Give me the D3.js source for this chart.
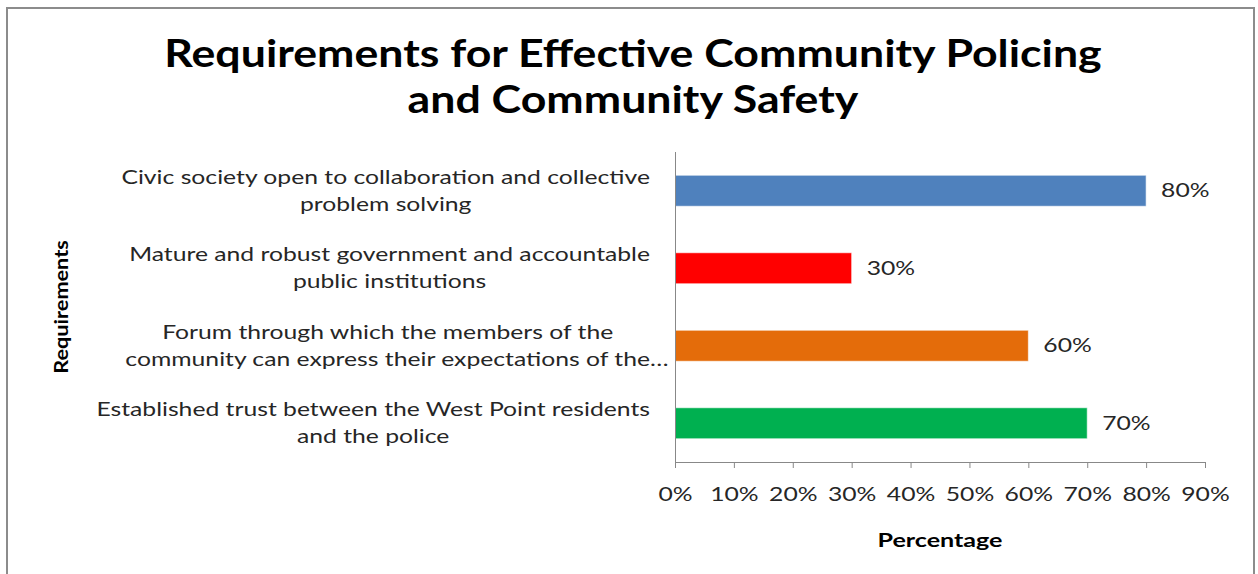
<!DOCTYPE html>
<html>
<head>
<meta charset="utf-8">
<script src="https://cdn.jsdelivr.net/npm/d3@7"></script>
<style>
  html, body { margin: 0; padding: 0; background: #fff; }
  svg { display: block; }
</style>
</head>
<body>
<svg id="chart" width="1258" height="574"></svg>
<script>
// Chart data
const titleLines = ["Requirements for Effective Community Policing", "and Community Safety"];
const categories = [
  ["Civic society open to collaboration and collective", "problem solving"],
  ["Mature and robust government and accountable", "public institutions"],
  ["Forum through which the members of the", "community can express their expectations of the…"],
  ["Established trust between the West Point residents", "and the police"]
];
const values = [80, 30, 60, 70];
const barColors = ["#4F81BD", "#FF0000", "#E46C0A", "#00B050"];
const xTicks = [0, 10, 20, 30, 40, 50, 60, 70, 80, 90];
const xAxisTitle = "Percentage";
const yAxisTitle = "Requirements";

const svg = d3.select("#chart");
const font = "Lato, 'Open Sans', sans-serif";

// Widen glyphs horizontally by factor k (text set in a broad face)
function widen(sel, k) {
  sel.each(function () {
    const w = this.getComputedTextLength();
    d3.select(this).attr("textLength", w * k).attr("lengthAdjust", "spacingAndGlyphs");
  });
}

// Outer chart frame
svg.append("rect")
  .attr("x", 7).attr("y", 8)
  .attr("width", 1247).attr("height", 580)
  .attr("fill", "#fff")
  .attr("stroke", "#8c8c8c").attr("stroke-width", 2);

// Title
const titleG = svg.append("g").attr("font-family", font).attr("font-weight", "bold")
  .attr("font-size", 38).attr("fill", "#000").attr("text-anchor", "middle");
titleG.selectAll("text").data(titleLines).join("text")
  .attr("x", 633)
  .attr("y", (d, i) => 67 + i * 46)
  .text(d => d)
  .call(widen, 1.175);

// Plot area
const plot = { left: 675, right: 1205, top: 152, bottom: 462 };

const x = d3.scaleLinear().domain([0, 90]).range([plot.left, plot.right]);
const y = d3.scaleBand().domain(d3.range(categories.length))
  .range([plot.top, plot.bottom]).paddingInner(0.6).paddingOuter(0.3);

// Bars
svg.append("g").selectAll("rect").data(values).join("rect")
  .attr("x", x(0))
  .attr("y", (d, i) => y(i))
  .attr("width", d => x(d) - x(0))
  .attr("height", y.bandwidth())
  .attr("fill", (d, i) => barColors[i])
  .attr("stroke", "rgba(255,255,255,0.6)").attr("stroke-width", 1);

// Value labels
svg.append("g").attr("font-family", font).attr("font-size", 19).attr("fill", "#262626")
  .selectAll("text").data(values).join("text")
  .attr("x", d => x(d) + 15)
  .attr("y", (d, i) => y(i) + y.bandwidth() / 2)
  .attr("dy", "0.35em")
  .text(d => d + "%")
  .call(widen, 1.3);

// X axis
const xAxis = svg.append("g")
  .attr("transform", `translate(0,${plot.bottom})`)
  .call(d3.axisBottom(x).tickValues(xTicks).tickFormat(d => d + "%").tickSize(6).tickPadding(20));
xAxis.select(".domain").attr("stroke", "#888").attr("d", `M${plot.left},0.5H${plot.right}`);
xAxis.selectAll(".tick line").attr("stroke", "#888");
xAxis.selectAll(".tick text").attr("font-family", font).attr("font-size", 19).attr("fill", "#262626")
  .call(widen, 1.3);

// Y axis line
svg.append("line")
  .attr("x1", plot.left + 0.5).attr("x2", plot.left + 0.5)
  .attr("y1", plot.top).attr("y2", plot.bottom)
  .attr("stroke", "#888");

// Category labels: each block right-aligned to the axis, lines centred within the block
const labelRight = 650;
const labelStretch = 1.3;
const catG = svg.append("g").attr("font-family", font).attr("font-size", 19).attr("fill", "#262626");
const ellW = (() => {
  const t = catG.append("text").text("…");
  const w = t.node().getComputedTextLength() * labelStretch;
  t.remove();
  return w;
})();
categories.forEach((lines, i) => {
  const cy = y(i) + y.bandwidth() / 2;
  const g = catG.append("g");
  const texts = lines.map((ln, j) => g.append("text")
    .attr("text-anchor", "middle")
    .attr("y", cy + (j - (lines.length - 1) / 2) * 27)
    .attr("dy", "0.35em")
    .text(ln)
    .call(widen, labelStretch));
  // block width ignores a trailing ellipsis, which is allowed to overhang
  const full = texts.map(t => +t.attr("textLength"));
  const widths = lines.map((ln, j) => ln.endsWith("…") ? full[j] - ellW : full[j]);
  const cx = labelRight - d3.max(widths) / 2;
  texts.forEach((t, j) => t.attr("x", cx + (full[j] - widths[j]) / 2));
});

// Axis titles
svg.append("text")
  .attr("x", (plot.left + plot.right) / 2).attr("y", 547)
  .attr("text-anchor", "middle")
  .attr("font-family", font).attr("font-weight", "bold").attr("font-size", 19).attr("fill", "#000")
  .text(xAxisTitle)
  .call(widen, 1.32);

svg.append("text")
  .attr("transform", `translate(68,${(plot.top + plot.bottom) / 2}) rotate(-90)`)
  .attr("text-anchor", "middle")
  .attr("font-family", font).attr("font-weight", "bold").attr("font-size", 19).attr("fill", "#000")
  .text(yAxisTitle)
  .call(widen, 1.14);
</script>
</body>
</html>
